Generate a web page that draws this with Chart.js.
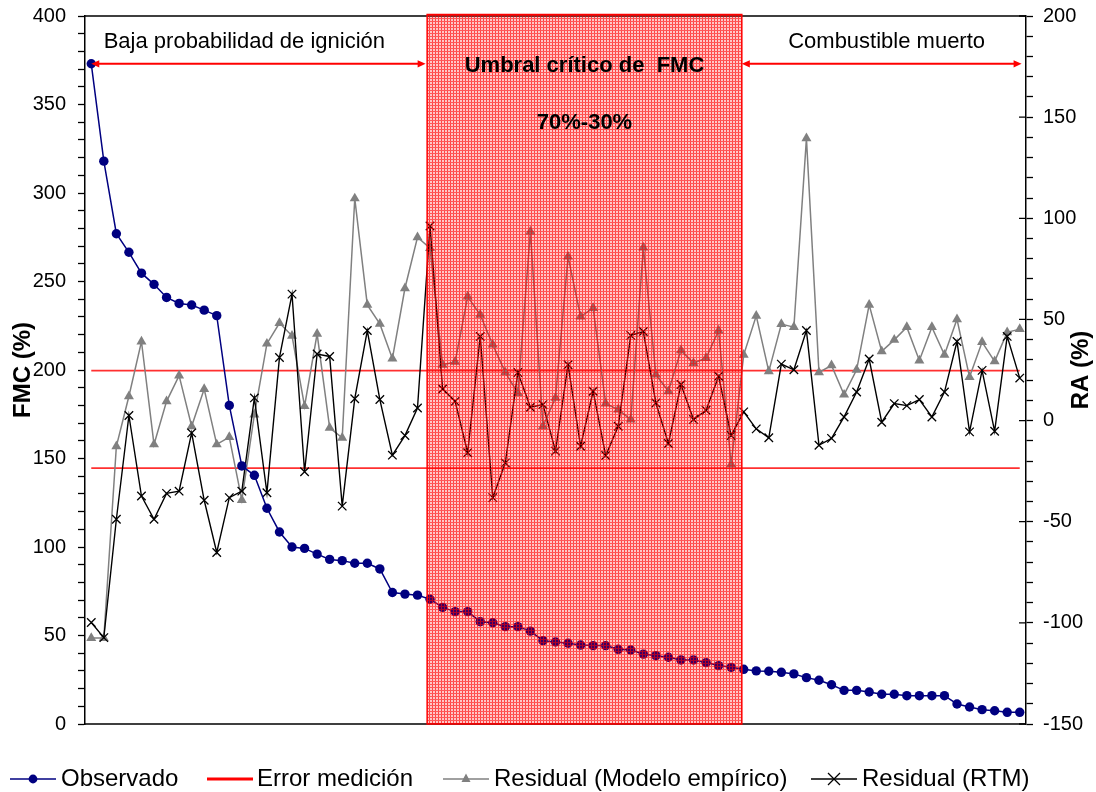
<!DOCTYPE html>
<html lang="es">
<head>
<meta charset="utf-8">
<title>FMC observado y residuales</title>
<script src="https://cdn.jsdelivr.net/npm/chart.js@4.4.1/dist/chart.umd.min.js"></script>
<style>
  html, body { margin: 0; padding: 0; background: #fff; }
  #lienzo { position: relative; width: 1096px; height: 792px; overflow: hidden; }
  #grafico { position: absolute; left: 0; top: 0; }
  .item { position: absolute; top: 764px; height: 28px; line-height: 28px; white-space: nowrap;
          font-family: 'Liberation Sans', Arial, sans-serif; font-size: 24px; color: #000; }
  .item svg { position: absolute; left: 0; top: 5px; }
  .item span { position: absolute; top: 0; }
</style>
</head>
<body>
<div id="lienzo">
  <canvas id="grafico" width="1096" height="792"></canvas>

  <div class="item" style="left:10px">
    <svg width="46" height="20"><line x1="0" y1="10" x2="46" y2="10" stroke="#000080" stroke-width="1.5"/><circle cx="23" cy="10" r="4.4" fill="#000080"/></svg>
    <span style="left:51px">Observado</span>
  </div>
  <div class="item" style="left:207px">
    <svg width="46" height="20"><line x1="0" y1="10" x2="46" y2="10" stroke="#ff0000" stroke-width="3"/></svg>
    <span style="left:50px">Error medición</span>
  </div>
  <div class="item" style="left:443px">
    <svg width="46" height="20"><line x1="0" y1="10" x2="46" y2="10" stroke="#808080" stroke-width="1.5"/><polygon points="23,4.5 27.5,13 18.5,13" fill="#808080"/></svg>
    <span style="left:51px">Residual (Modelo empírico)</span>
  </div>
  <div class="item" style="left:811px">
    <svg width="46" height="20"><line x1="0" y1="10" x2="46" y2="10" stroke="#000" stroke-width="1.3"/><line x1="17" y1="4" x2="29" y2="16" stroke="#000" stroke-width="1.3"/><line x1="17" y1="16" x2="29" y2="4" stroke="#000" stroke-width="1.3"/></svg>
    <span style="left:51px">Residual (RTM)</span>
  </div>
</div>

<script>
// Contenido de humedad del combustible observado (FMC, %), muestras ordenadas de mayor a menor
const observado = [
  373, 318, 277, 266.5, 254.7, 248.4, 241, 237.6, 236.7, 233.8,
  230.7, 180, 145.8, 140.5, 121.9, 108.5, 100, 99.2, 96, 93,
  92.3, 90.8, 90.8, 87.6, 74.3, 73.4, 72.8, 70.5, 65.9, 63.5,
  63.5, 57.8, 57.2, 55, 55, 52.5, 47.1, 46.3, 45.6, 44.6,
  44.3, 44.3, 42.2, 41.8, 39.5, 38.6, 37.7, 36.2, 36.2, 34.7,
  33, 32, 30.9, 30, 29.8, 29.2, 28.3, 26.2, 24.7, 22.2,
  19, 19, 18.1, 16.8, 16.8, 16, 16, 16, 16, 11.3,
  9.6, 8.1, 7.5, 6.6, 6.6
];

// Residual relativo del modelo empírico (RA, %)
const residualEmpirico = [
  -107.5, -107.5, -12.7, 12, 39.1, -11.8, 9.5, 22.2, -2.8, 15.6,
  -11.8, -8.2, -39.3, 3, 38, 48.2, 41.9, 7.1, 42.9, -3.6,
  -8.5, 109.8, 57.2, 47.8, 30.6, 65.4, 90.6, 85.2, 27.6, 29,
  61.3, 52.3, 37.5, 23.8, 13.6, 93.4, -2.8, 11.2, 81, 51.4,
  55.6, 8.4, 5.4, 0.5, 85.5, 22.7, 14.5, 34.7, 28.4, 30.9,
  44.5, -21.7, 32.5, 51.8, 24.3, 47.7, 46.2, 139.5, 23.8, 27.3,
  12.8, 25.1, 57.2, 34.2, 39.9, 46.2, 29.7, 46.2, 32.5, 50.1,
  21.5, 38.8, 29.3, 43.6, 45.2
];

// Residual relativo del modelo de transferencia radiativa (RA, %)
const residualRTM = [
  -99.8, -107.3, -48.8, 2.5, -37.3, -48.8, -36, -34.9, -6.1, -39.4,
  -65.2, -38.1, -34.9, 11.2, -35.7, 31.2, 62.5, -25.3, 32.9, 31.7,
  -42.3, 10.8, 44.5, 10.4, -17.1, -7.4, 6.2, 96.2, 15.6, 9.5,
  -15.9, 41.6, -38.1, -20.9, 23.8, 6.6, 7.9, -15.1, 27.6, -12.7,
  14.5, -17.3, -2.8, 42.1, 44, 8.7, -11.3, 17.8, 0.5, 5.1,
  21.9, -7.4, 4.3, -4.1, -8.5, 27.9, 25.1, 44.5, -12.2, -8.8,
  1.8, 14.1, 30.4, -0.8, 8.4, 7.4, 10.4, 1.8, 14.1, 39.1,
  -5.6, 24.8, -5.3, 41.6, 21
];

// Límites del error de medición (RA, %)
const errorSuperior = 24.7;
const errorInferior = -23.5;

// Marcas principales de los ejes
const ticksFMC = [0, 50, 100, 150, 200, 250, 300, 350, 400];
const ticksRA = [-150, -100, -50, 0, 50, 100, 150, 200];

// Una categoría por muestra (sin etiqueta visible)
const muestras = observado.map((_, i) => String(i + 1));

// Zonas de comportamiento sobre el eje de muestras
const zonas = {
  critica: { desde: 26.77, hasta: 51.85 },
  flechaBaja: { desde: 0, hasta: 26.65, fmc: 373 },
  flechaMuerto: { desde: 51.85, hasta: 74.15, fmc: 373 },
  textoBaja: { x: 12.2, fmc: 381.9 },
  textoMuerto: { x: 63.39, fmc: 381.7 },
  textoUmbral: { fmc: 368.5 },
  textoRango: { fmc: 336 }
};

const FUENTE = "'Liberation Sans', Arial, sans-serif";
Chart.defaults.font.family = FUENTE;
Chart.defaults.color = '#000';

// Trama cuadriculada roja semitransparente
function crearTrama(ctx) {
  const c = document.createElement('canvas');
  c.width = 3; c.height = 3;
  const g = c.getContext('2d');
  g.fillStyle = 'rgba(255,0,0,0.22)';
  g.fillRect(0, 1, 3, 2);
  g.fillStyle = 'rgba(255,0,0,0.66)';
  g.fillRect(0, 0, 3, 1);
  g.fillRect(0, 1, 1, 2);
  return ctx.createPattern(c, 'repeat');
}

function flecha(ctx, x0, x1, y) {
  const L = 8, H = 3.6;
  ctx.beginPath();
  ctx.moveTo(x0 + L - 1, y); ctx.lineTo(x1 - L + 1, y);
  ctx.stroke();
  ctx.beginPath();
  ctx.moveTo(x0, y); ctx.lineTo(x0 + L, y - H); ctx.lineTo(x0 + L, y + H); ctx.closePath();
  ctx.moveTo(x1, y); ctx.lineTo(x1 - L, y - H); ctx.lineTo(x1 - L, y + H); ctx.closePath();
  ctx.fill();
}

const anotaciones = {
  id: 'anotaciones',
  beforeDatasetsDraw(chart) {
    const { ctx, chartArea: a } = chart;
    ctx.save();
    ctx.strokeStyle = '#000';
    ctx.lineWidth = 1.5;
    ctx.beginPath();
    ctx.moveTo(a.left, a.top); ctx.lineTo(a.right, a.top);
    ctx.moveTo(a.left, a.bottom); ctx.lineTo(a.right, a.bottom);
    ctx.stroke();
    // las marcas principales del eje derecho cruzan hacia dentro
    const y1 = chart.scales.y1;
    ctx.lineWidth = 1.3;
    ctx.beginPath();
    ticksRA.forEach(v => {
      const p = y1.getPixelForValue(v);
      ctx.moveTo(a.right - 7, p); ctx.lineTo(a.right, p);
    });
    ctx.stroke();
    ctx.restore();
  },
  afterDatasetsDraw(chart) {
    const { ctx, chartArea: a } = chart;
    const x = chart.scales.x, y = chart.scales.y;
    ctx.save();

    // zona del umbral crítico
    const xa = x.getPixelForValue(zonas.critica.desde);
    const xb = x.getPixelForValue(zonas.critica.hasta);
    ctx.fillStyle = crearTrama(ctx);
    ctx.fillRect(xa, a.top - 1.5, xb - xa, a.bottom - a.top + 1.5);
    ctx.strokeStyle = '#ff0000';
    ctx.lineWidth = 1.5;
    ctx.strokeRect(xa, a.top - 1.5, xb - xa, a.bottom - a.top + 1.5);

    // flechas de los tramos
    ctx.strokeStyle = '#ff0000';
    ctx.fillStyle = '#ff0000';
    ctx.lineWidth = 2;
    [zonas.flechaBaja, zonas.flechaMuerto].forEach(f => {
      flecha(ctx, x.getPixelForValue(f.desde), x.getPixelForValue(f.hasta), y.getPixelForValue(f.fmc));
    });

    // textos
    ctx.fillStyle = '#000';
    ctx.textAlign = 'center';
    ctx.textBaseline = 'alphabetic';
    ctx.font = '22px ' + FUENTE;
    ctx.fillText('Baja probabilidad de ignición', x.getPixelForValue(zonas.textoBaja.x), y.getPixelForValue(zonas.textoBaja.fmc));
    ctx.fillText('Combustible muerto', x.getPixelForValue(zonas.textoMuerto.x), y.getPixelForValue(zonas.textoMuerto.fmc));
    ctx.font = 'bold 22px ' + FUENTE;
    const xc = (xa + xb) / 2;
    ctx.fillText('Umbral crítico de  FMC', xc, y.getPixelForValue(zonas.textoUmbral.fmc));
    ctx.fillText('70%-30%', xc, y.getPixelForValue(zonas.textoRango.fmc));
    ctx.restore();
  },
  afterDraw(chart) {
    const { ctx, chartArea: a } = chart;
    ctx.save();
    ctx.fillStyle = '#000';
    ctx.font = 'bold 24px ' + FUENTE;
    ctx.textAlign = 'center';
    ctx.textBaseline = 'middle';
    const yc = (a.top + a.bottom) / 2;
    ctx.translate(a.right + 55, yc);
    ctx.rotate(-Math.PI / 2);
    ctx.fillText('RA (%)', 0, 0);
    ctx.restore();
  }
};

const etiquetaCada50 = v => (v % 50 === 0 ? String(v) : '');

// Ancho fijo de cada eje vertical y sin relleno extra por las etiquetas extremas
const ajustarEje = ancho => s => {
  s.width = ancho;
  s.paddingTop = 0;
  s.paddingBottom = 0;
};

new Chart(document.getElementById('grafico'), {
  type: 'line',
  data: {
    labels: muestras,
    datasets: [
      {
        label: 'Observado',
        data: observado,
        yAxisID: 'y',
        borderColor: '#000080',
        backgroundColor: '#000080',
        borderWidth: 1.5,
        pointStyle: 'circle',
        pointRadius: 4.7,
        pointBorderWidth: 0,
        tension: 0,
        order: 0
      },
      {
        label: 'Residual (RTM)',
        data: residualRTM,
        yAxisID: 'y1',
        borderColor: '#000000',
        backgroundColor: '#000000',
        borderWidth: 1.4,
        pointStyle: 'crossRot',
        pointRadius: 6,
        pointBorderWidth: 1.3,
        tension: 0,
        order: 1
      },
      {
        label: 'Residual (Modelo empírico)',
        data: residualEmpirico,
        yAxisID: 'y1',
        borderColor: '#808080',
        backgroundColor: '#808080',
        borderWidth: 1.5,
        pointStyle: 'triangle',
        pointRadius: 5.8,
        pointBorderWidth: 0,
        tension: 0,
        order: 2
      },
      {
        label: 'Error medición',
        data: muestras.map(() => errorSuperior),
        yAxisID: 'y1',
        borderColor: '#ff3030',
        borderWidth: 1.6,
        pointRadius: 0,
        order: 3
      },
      {
        label: 'Error medición (inferior)',
        data: muestras.map(() => errorInferior),
        yAxisID: 'y1',
        borderColor: '#ff3030',
        borderWidth: 1.6,
        pointRadius: 0,
        order: 3
      }
    ]
  },
  options: {
    responsive: false,
    animation: false,
    devicePixelRatio: 1,
    layout: { padding: { top: 16, bottom: 68, left: 0, right: 0 } },
    plugins: {
      legend: { display: false },
      tooltip: { enabled: false }
    },
    scales: {
      x: {
        type: 'category',
        offset: true,
        display: false
      },
      y: {
        position: 'left',
        min: 0,
        max: 400,
        afterFit: ajustarEje(85),
        ticks: {
          stepSize: 10,
          maxTicksLimit: 100,
          autoSkip: false,
          padding: 12,
          font: { size: 20 },
          color: '#000',
          callback: etiquetaCada50
        },
        grid: { display: true, drawOnChartArea: false, drawTicks: true, tickLength: 7, tickColor: '#000', tickWidth: 1.3 },
        border: { display: true, color: '#000', width: 1.5 },
        title: {
          display: true,
          text: 'FMC (%)',
          font: { size: 24, weight: 'bold' },
          color: '#000',
          padding: { top: 9, bottom: 0 }
        }
      },
      y1: {
        position: 'right',
        min: -150,
        max: 200,
        afterFit: ajustarEje(70),
        ticks: {
          stepSize: 10,
          maxTicksLimit: 100,
          autoSkip: false,
          padding: 10,
          font: { size: 20 },
          color: '#000',
          callback: etiquetaCada50
        },
        grid: { display: true, drawOnChartArea: false, drawTicks: true, tickLength: 7, tickColor: '#000', tickWidth: 1.3 },
        border: { display: true, color: '#000', width: 1.5 }
      }
    }
  },
  plugins: [anotaciones]
});
</script>
</body>
</html>
